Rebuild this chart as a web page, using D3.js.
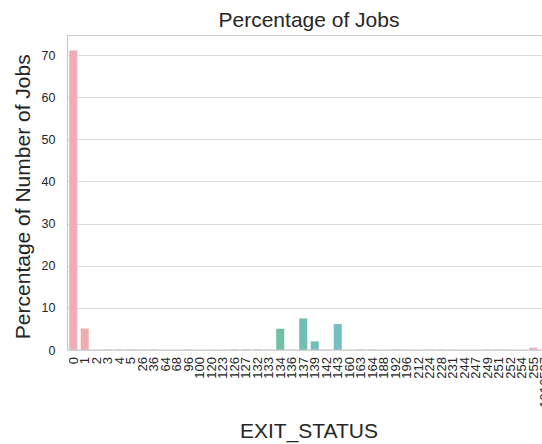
<!DOCTYPE html>
<html>
<head>
<meta charset="utf-8">
<script src="https://cdn.jsdelivr.net/npm/d3@7"></script>
<style>
  html, body { margin: 0; padding: 0; background: #fff; }
  svg { display: block; font-family: Arial, "Liberation Sans", sans-serif; }
</style>
</head>
<body>
<svg id="chart" width="542" height="444"></svg>
<script>
// Exit status codes and the share of jobs (%) that ended with each one
const exitStatus = ["0","1","2","3","4","5","26","36","64","68","96","100","120","123","126","127",
  "132","133","134","136","137","139","142","143","160","163","164","188","192","196","212",
  "224","228","231","244","247","249","251","252","254","255","1916527"];
const jobPercent = [71.1, 5.1, 0.05, 0.1, 0.1, 0.1, 0.05, 0.1, 0.02, 0.02, 0.1, 0.02, 0.02, 0.02, 0.1, 0.1,
  0.1, 0.05, 5.05, 0.05, 7.5, 2.05, 0.05, 6.15, 0.02, 0.1, 0.1, 0.02, 0.1, 0.05, 0.02,
  0.1, 0.1, 0.05, 0.02, 0.02, 0.1, 0.1, 0.05, 0.02, 0.55, 0.02];
const yTicks = [0, 10, 20, 30, 40, 50, 60, 70];

// --- HUSL palette (as used for many categorical bars), desaturated for patches ---
const M = [[3.2406, -1.5372, -0.4986], [-0.9689, 1.8758, 0.0415], [0.0557, -0.2040, 1.0570]];
const refU = 0.19784, refV = 0.46834, labE = 0.008856, labK = 903.3;
function maxChroma(L, H) {
  const hr = H / 360 * 2 * Math.PI, sinH = Math.sin(hr), cosH = Math.cos(hr);
  const sub1 = Math.pow(L + 16, 3) / 1560896;
  const sub2 = sub1 > labE ? sub1 : L / labK;
  let result = Infinity;
  for (const [m1, m2, m3] of M) {
    const tp = (0.99915 * m1 + 1.05122 * m2 + 1.14460 * m3) * sub2;
    const rb = 0.86330 * m3 - 0.17266 * m2;
    const lb = 0.12949 * m3 - 0.38848 * m1;
    const bt = (rb * sinH + lb * cosH) * sub2;
    for (const t of [0, 1]) {
      const C = L * (tp - 1.05122 * t) / (bt + 0.17266 * sinH * t);
      if (C > 0 && C < result) result = C;
    }
  }
  return result;
}
function fInv(t) { return Math.pow(t, 3) > labE ? Math.pow(t, 3) : (116 * t - 16) / labK; }
function huslToRgb(H, S, L) {
  const C = maxChroma(L, H) / 100 * S;
  const hr = H / 360 * 2 * Math.PI;
  const U = Math.cos(hr) * C, V = Math.sin(hr) * C;
  const vY = fInv((L + 16) / 116);
  const vU = U / (13 * L) + refU, vV = V / (13 * L) + refV;
  const Y = vY;
  const X = 0 - (9 * Y * vU) / ((vU - 4) * vV - vU * vV);
  const Z = (9 * Y - 15 * vV * Y - vV * X) / (3 * vV);
  return M.map(r => {
    const c = r[0] * X + r[1] * Y + r[2] * Z;
    const v = c <= 0.0031308 ? 12.92 * c : 1.055 * Math.pow(c, 1 / 2.4) - 0.055;
    return Math.max(0, Math.min(1, v));
  });
}
function desaturate([r, g, b], prop) {
  const mx = Math.max(r, g, b), mn = Math.min(r, g, b);
  const l = (mx + mn) / 2;
  if (mx === mn) return [r, g, b];
  let s = l <= 0.5 ? (mx - mn) / (mx + mn) : (mx - mn) / (2 - mx - mn);
  const rc = (mx - r) / (mx - mn), gc = (mx - g) / (mx - mn), bc = (mx - b) / (mx - mn);
  let h = r === mx ? bc - gc : g === mx ? 2 + rc - bc : 4 + gc - rc;
  h = ((h / 6) % 1 + 1) % 1;
  s *= prop;
  const m2 = l <= 0.5 ? l * (1 + s) : l + s - l * s, m1 = 2 * l - m2;
  const v = hh => {
    hh = ((hh % 1) + 1) % 1;
    if (hh < 1 / 6) return m1 + (m2 - m1) * hh * 6;
    if (hh < 0.5) return m2;
    if (hh < 2 / 3) return m1 + (m2 - m1) * (2 / 3 - hh) * 6;
    return m1;
  };
  return [v(h + 1 / 3), v(h), v(h - 1 / 3)];
}
function palette(n) {
  return d3.range(n).map(i => {
    const hue = ((i / n + 0.01) % 1) * 359;
    const rgb = desaturate(huslToRgb(hue, 89.1, 69.3), 0.75);
    const c = d3.rgb(rgb[0] * 255, rgb[1] * 255, rgb[2] * 255);
    // bars are drawn slightly translucent over the white background
    return d3.interpolateRgb(c, "#ffffff")(0.22);
  });
}
const colors = palette(exitStatus.length);

// --- layout ---
const svg = d3.select("#chart");
const plotLeft = 67.5, plotTop = 35.5, plotBottom = 350;
const bandW = 11.5;
const plotRight = plotLeft + bandW * exitStatus.length;
const labelFont = 21;

const x = d3.scaleBand().domain(exitStatus).range([plotLeft, plotRight]).paddingInner(0.3).paddingOuter(0.15);
const y = d3.scaleLinear().domain([0, 71.1 * 1.05]).range([plotBottom, plotTop]);

// grid
svg.append("g")
  .selectAll("line").data(yTicks).join("line")
  .attr("x1", plotLeft).attr("x2", plotRight)
  .attr("y1", d => Math.round(y(d)) + 0.5).attr("y2", d => Math.round(y(d)) + 0.5)
  .attr("stroke", "#dcdcdc").attr("stroke-width", 1);

// bars
svg.append("g")
  .selectAll("rect").data(exitStatus).join("rect")
  .attr("x", d => x(d))
  .attr("width", x.bandwidth())
  .attr("y", (d, i) => y(jobPercent[i]))
  .attr("height", (d, i) => plotBottom - y(jobPercent[i]))
  .attr("fill", (d, i) => colors[i]);

// frame
svg.append("rect")
  .attr("x", plotLeft).attr("y", plotTop)
  .attr("width", plotRight - plotLeft).attr("height", plotBottom - plotTop)
  .attr("fill", "none").attr("stroke", "#c8c8c8").attr("stroke-width", 1);

// y axis
const yAxis = svg.append("g").attr("transform", `translate(${plotLeft},0)`)
  .call(d3.axisLeft(y).tickValues(yTicks).tickSize(0).tickPadding(12));
yAxis.select(".domain").remove();
yAxis.selectAll("text").attr("font-size", 12.5).attr("fill", "#262626")
  .attr("font-family", "Arial, 'Liberation Sans', sans-serif");

// x axis
const xAxis = svg.append("g").attr("transform", `translate(0,${plotBottom})`)
  .call(d3.axisBottom(x).tickSize(0).tickPadding(0));
xAxis.select(".domain").remove();
xAxis.selectAll("text")
  .attr("font-size", 13).attr("fill", "#262626")
  .attr("font-family", "Arial, 'Liberation Sans', sans-serif")
  .attr("transform", "translate(0,7) rotate(-90)")
  .attr("text-anchor", "end")
  .attr("x", 0).attr("y", 0).attr("dy", "0.35em");

// titles
svg.append("text").attr("x", (plotLeft + plotRight) / 2).attr("y", 27).attr("text-anchor", "middle")
  .attr("font-size", labelFont).attr("fill", "#262626").text("Percentage of Jobs");
svg.append("text").attr("x", (plotLeft + plotRight) / 2).attr("y", 438).attr("text-anchor", "middle")
  .attr("font-size", labelFont).attr("fill", "#262626").text("EXIT_STATUS");
svg.append("text").attr("transform", `translate(30,${(plotTop + plotBottom) / 2 + 4}) rotate(-90)`)
  .attr("text-anchor", "middle")
  .attr("font-size", labelFont).attr("fill", "#262626").text("Percentage of Number of Jobs");
</script>
</body>
</html>
